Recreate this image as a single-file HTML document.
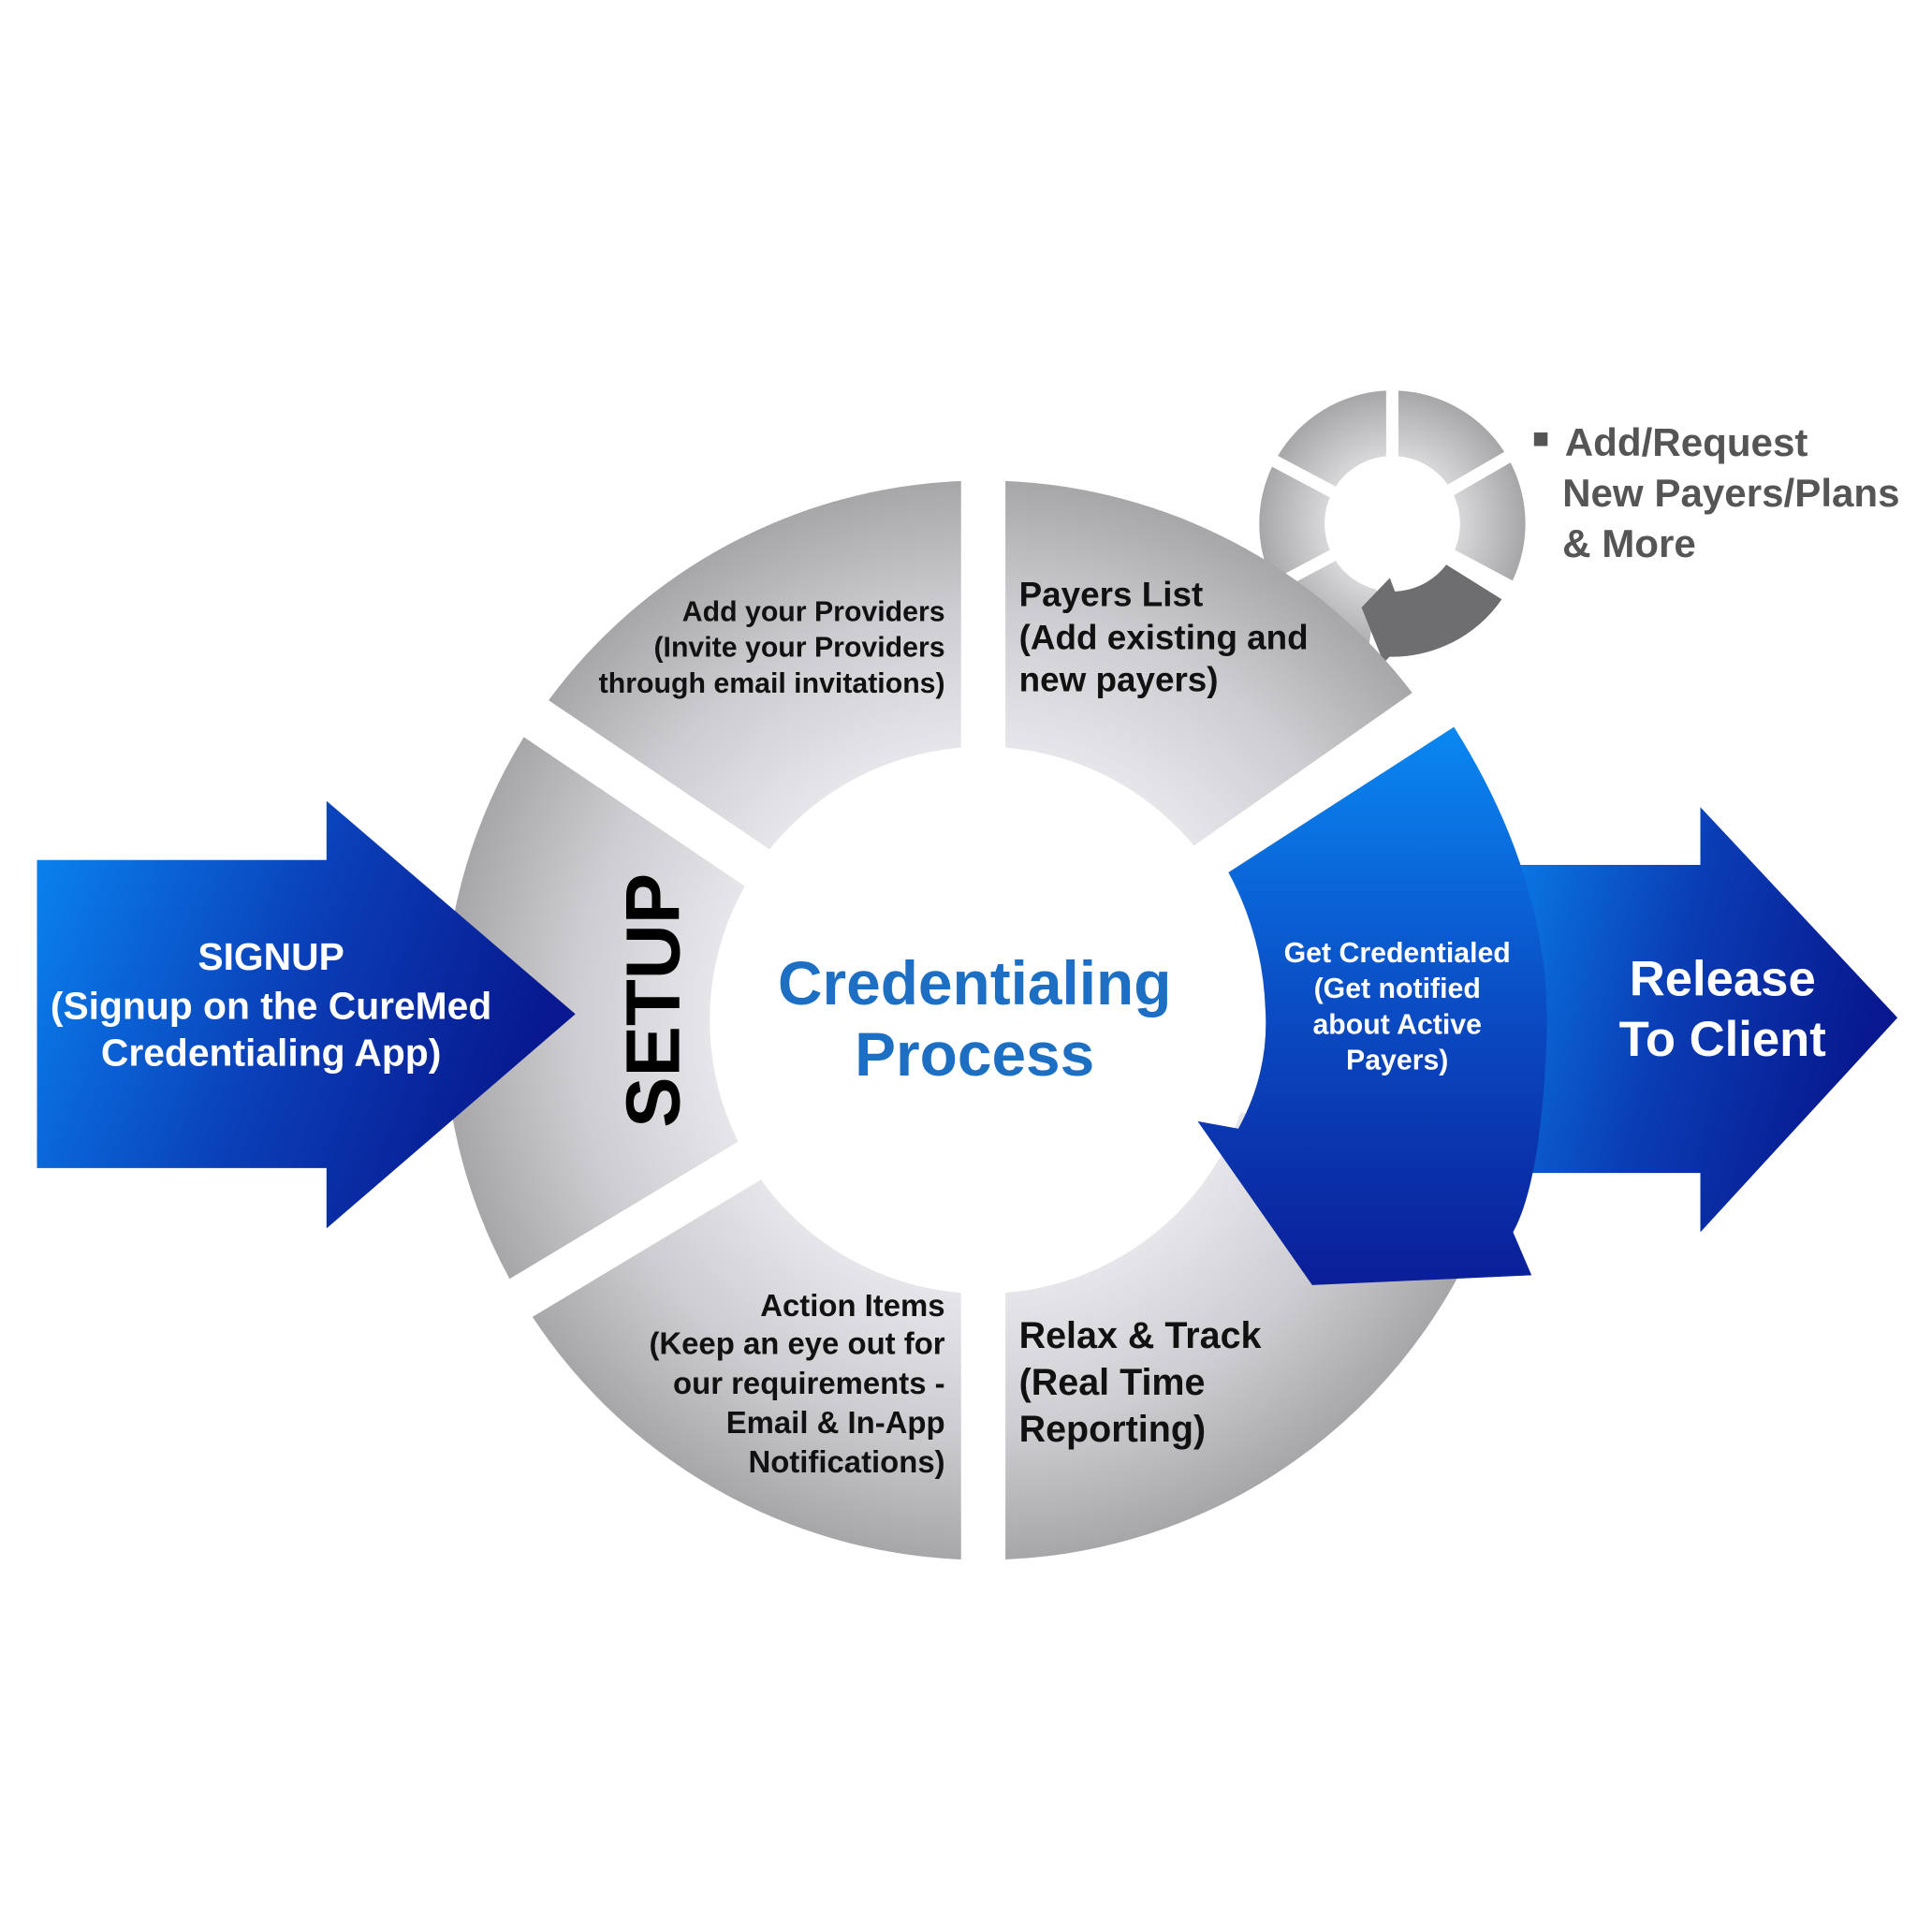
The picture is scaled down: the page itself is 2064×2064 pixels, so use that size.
<!DOCTYPE html>
<html><head><meta charset="utf-8">
<style>
html,body{margin:0;padding:0;background:#fff;}
svg{display:block;}
text{font-family:"Liberation Sans",Arial,sans-serif;font-weight:bold;}
</style></head>
<body>
<svg id="s" width="2064" height="2064" viewBox="0 0 1568 1568" xmlns="http://www.w3.org/2000/svg">
<defs>
<radialGradient id="gray" gradientUnits="userSpaceOnUse" cx="798" cy="828" r="445">
<stop offset="0.5" stop-color="#e6e6ea"/>
<stop offset="0.75" stop-color="#cdcdd1"/>
<stop offset="1" stop-color="#a4a4a7"/>
</radialGradient>
<radialGradient id="gray2" gradientUnits="userSpaceOnUse" cx="1130" cy="425" r="113">
<stop offset="0.5" stop-color="#d6d6d8"/>
<stop offset="1" stop-color="#a2a2a4"/>
</radialGradient>
<linearGradient id="blueL" x1="0" y1="0" x2="1" y2="0.3">
<stop offset="0" stop-color="#0a86f2"/>
<stop offset="0.55" stop-color="#0a3fb8"/>
<stop offset="1" stop-color="#08198f"/>
</linearGradient>
<linearGradient id="blueR" x1="0" y1="0" x2="1" y2="0.3">
<stop offset="0" stop-color="#0a7ee8"/>
<stop offset="0.5" stop-color="#0a3db5"/>
<stop offset="1" stop-color="#08188e"/>
</linearGradient>
<linearGradient id="blueS" x1="0" y1="0" x2="0" y2="1">
<stop offset="0" stop-color="#0a88f2"/>
<stop offset="0.5" stop-color="#0a4cc4"/>
<stop offset="1" stop-color="#0a1e98"/>
</linearGradient>
</defs>
<g id="ring"></g>
<g id="segs"></g>
<path d="M30,698 L265,698 L265,650 L467,823 L265,997 L265,948 L30,948 Z" fill="url(#blueL)"/>
<path d="M1225,702 L1380,702 L1380,655 L1540,826 L1380,1000 L1380,952 L1225,952 Z" fill="url(#blueR)"/>
<path d="M997,708 L1180,590 Q1262,720 1255,850 Q1250,960 1228,1000 L1243,1035 L1065,1043 L972,910 L1005,916 Q1030,870 1027,820 Q1025,760 997,708 Z" fill="url(#blueS)"/>

<text x="529" y="812" font-size="62" fill="#000" text-anchor="middle" transform="rotate(-90 529 812)" dy="22">SETUP</text>

<g font-size="23" fill="#111" text-anchor="end">
<text x="767" y="504">Add your Providers</text>
<text x="767" y="533">(Invite your Providers</text>
<text x="767" y="562">through email invitations)</text>
</g>
<g font-size="28" fill="#111">
<text x="827" y="492">Payers List</text>
<text x="827" y="527">(Add existing and</text>
<text x="827" y="561">new payers)</text>
</g>
<g font-size="25" fill="#111" text-anchor="end">
<text x="767" y="1068">Action Items</text>
<text x="767" y="1099">(Keep an eye out for</text>
<text x="767" y="1131">our requirements -</text>
<text x="767" y="1163">Email &amp; In-App</text>
<text x="767" y="1195">Notifications)</text>
</g>
<g font-size="30" fill="#111">
<text x="827" y="1094">Relax &amp; Track</text>
<text x="827" y="1132">(Real Time</text>
<text x="827" y="1170">Reporting)</text>
</g>
<g font-size="23" fill="#fff" text-anchor="middle">
<text x="1134" y="781">Get Credentialed</text>
<text x="1134" y="810">(Get notified</text>
<text x="1134" y="839">about Active</text>
<text x="1134" y="868">Payers)</text>
</g>
<g font-size="40" fill="#fff" text-anchor="middle">
<text x="1398" y="808">Release</text>
<text x="1398" y="857">To Client</text>
</g>
<g font-size="31" fill="#fff" text-anchor="middle">
<text x="220" y="787">SIGNUP</text>
<text x="220" y="827">(Signup on the CureMed</text>
<text x="220" y="865">Credentialing App)</text>
</g>
<g font-size="50" fill="#1d6fc3" text-anchor="middle">
<text x="791" y="815">Credentialing</text>
<text x="791" y="873">Process</text>
</g>
<rect x="1245" y="351" width="11" height="11" fill="#555"/>
<g font-size="32" fill="#555">
<text x="1270" y="370">Add/Request</text>
<text x="1268" y="411">New Payers/Plans</text>
<text x="1268" y="452">&amp; More</text>
</g>
</svg>
<script>
function sector(cx,cy,ri,ro,a1,a2,g,fill){
  var R=Math.PI/180;
  function pt(a,r){return [cx+r*Math.cos(a),cy-r*Math.sin(a)];}
  var b1i=a1*R+Math.asin(g/ri),b1o=a1*R+Math.asin(g/ro),b2o=a2*R-Math.asin(g/ro),b2i=a2*R-Math.asin(g/ri);
  var p1=pt(b1i,ri),p2=pt(b1o,ro),p3=pt(b2o,ro),p4=pt(b2i,ri);
  var lo=(b2o-b1o)>Math.PI?1:0, li=(b2i-b1i)>Math.PI?1:0;
  var d="M"+p1+" L"+p2+" A"+ro+","+ro+" 0 "+lo+" 0 "+p3+" L"+p4+" A"+ri+","+ri+" 0 "+li+" 1 "+p1+" Z";
  return '<path d="'+d+'" fill="'+fill+'"/>';
}
var s='';
[[35,90],[90,146],[146,211],[211,270],[270,345]].forEach(function(a){s+=sector(798,828,222,438,a[0],a[1],18,'url(#gray)');});
document.getElementById('segs').innerHTML=s;
var r='';
[[30,90],[90,152],[152,208],[208,262]].forEach(function(a){r+=sector(1130,425,55,108,a[0],a[1],5,'url(#gray2)');});
r+=sector(1130,425,55,108,-28,30,5,'url(#gray2)');
r+=sector(1130,425,55,108,-95,-32,5,'#6e6e70');
r+='<path d="M1128,469 L1105,493 L1123,538 L1145,515 Z" fill="#6e6e70"/>';
document.getElementById('ring').innerHTML=r;
</script>
</body></html>
